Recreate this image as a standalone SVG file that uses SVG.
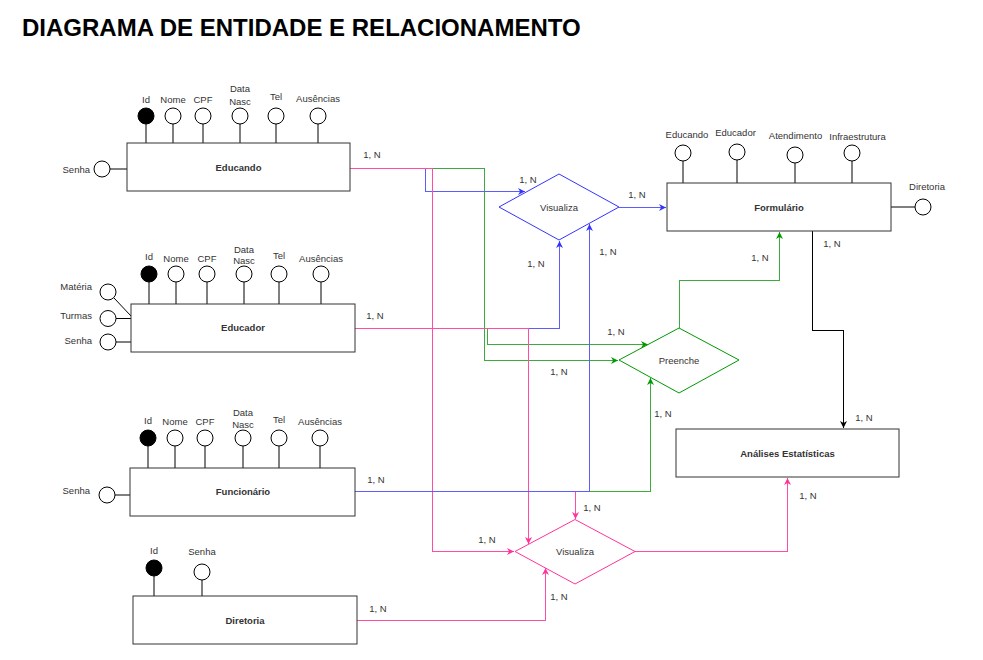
<svg xmlns="http://www.w3.org/2000/svg" width="983" height="660" viewBox="0 0 983 660">
<style>
text{font-family:"Liberation Sans",Arial,sans-serif;fill:#333;font-size:9.5px}
.t{text-anchor:middle}
.e{text-anchor:end}
.b{font-weight:bold}
.title{font-size:24px;font-weight:bold;fill:#000}
.ent{fill:#fff;stroke:#333;stroke-width:1}
.at{fill:#fff;stroke:#000;stroke-width:1}
.pk{fill:#000;stroke:#000;stroke-width:1}
.ln{stroke:#000;stroke-width:1;fill:none}
.cP,.cB,.cG,.cK{fill:none;stroke-width:1;shape-rendering:crispEdges}
.cP{stroke:#FF4DA6}
.cB{stroke:#5C5CFF}
.cG{stroke:#3DAA3D}
.cK{stroke:#000}
</style>
<defs>
<marker id="aP" viewBox="0 0 10 10" refX="10" refY="5" markerWidth="7" markerHeight="7" orient="auto" markerUnits="userSpaceOnUse"><path d="M0,0 L10,5 L0,10 L3,5 z" fill="#FF3399" shape-rendering="auto"/></marker>
<marker id="aB" viewBox="0 0 10 10" refX="10" refY="5" markerWidth="7" markerHeight="7" orient="auto" markerUnits="userSpaceOnUse"><path d="M0,0 L10,5 L0,10 L3,5 z" fill="#3333FF" shape-rendering="auto"/></marker>
<marker id="aG" viewBox="0 0 10 10" refX="10" refY="5" markerWidth="7" markerHeight="7" orient="auto" markerUnits="userSpaceOnUse"><path d="M0,0 L10,5 L0,10 L3,5 z" fill="#009900" shape-rendering="auto"/></marker>
<marker id="aK" viewBox="0 0 10 10" refX="10" refY="5" markerWidth="7" markerHeight="7" orient="auto" markerUnits="userSpaceOnUse"><path d="M0,0 L10,5 L0,10 L3,5 z" fill="#000" shape-rendering="auto"/></marker>
</defs>
<rect width="983" height="660" fill="#fff"/>
<text class="title" x="22" y="36">DIAGRAMA DE ENTIDADE E RELACIONAMENTO</text>

<g id="connectors">
<path class="cG" d="M350,168.5 H484.5 V360.5 H618" marker-end="url(#aG)"/>
<path class="cG" d="M355,328.5 H487.5 V344.5 H648" marker-end="url(#aG)"/>
<path class="cG" d="M679.5,328 V280.5 H779.5 V232" marker-end="url(#aG)"/>
<path class="cB" d="M350,168.5 H425.5 V191.5 H525" marker-end="url(#aB)"/>
<path class="cB" d="M355,328.5 H559.5 V241" marker-end="url(#aB)"/>
<path class="cB" d="M619,207.5 H666" marker-end="url(#aB)"/>
<path class="cP" d="M350,168.5 H432.5 V551.5 H514" marker-end="url(#aP)"/>
<path class="cP" d="M355,328.5 H528.5 V544" marker-end="url(#aP)"/>
<path class="cP" d="M355,491.5 H575.5 V519" marker-end="url(#aP)"/>
<path class="cG" d="M589,491.5 H650.5 V378" marker-end="url(#aG)"/>
<path class="cB" d="M355,491.5 H589.5 V224" marker-end="url(#aB)"/>
<path class="cP" d="M357,620.5 H545.5 V568" marker-end="url(#aP)"/>
<path class="cP" d="M635,551.5 H787.5 V478" marker-end="url(#aP)"/>
<path class="cK" d="M812.5,231 V330.5 H843.5 V428" marker-end="url(#aK)"/>
<g class="t">
<text x="372" y="157.5">1, N</text>
<text x="528" y="182.5">1, N</text>
<text x="637" y="197.5">1, N</text>
<text x="536" y="266.5">1, N</text>
<text x="608" y="254.5">1, N</text>
<text x="760" y="260.5">1, N</text>
<text x="832" y="246.5">1, N</text>
<text x="375" y="318.5">1, N</text>
<text x="616" y="334.5">1, N</text>
<text x="559" y="374.5">1, N</text>
<text x="663" y="416.5">1, N</text>
<text x="864" y="420.5">1, N</text>
<text x="376" y="482.5">1, N</text>
<text x="592" y="510.5">1, N</text>
<text x="808" y="498.5">1, N</text>
<text x="487" y="542.5">1, N</text>
<text x="378" y="611.5">1, N</text>
<text x="559" y="599.5">1, N</text>
</g>
</g>

<g id="educando">
<path class="ln" d="M146,124V143 M173,124V143 M203,124V143 M240,124V143 M276,124V143 M318,124V143 M110,169H127"/>
<rect class="ent" x="127" y="143" width="223" height="48"/>
<text class="t b" x="238.5" y="170.5">Educando</text>
<circle class="pk" cx="146" cy="116" r="8"/>
<circle class="at" cx="173" cy="116" r="8"/>
<circle class="at" cx="203" cy="116" r="8"/>
<circle class="at" cx="240" cy="116" r="8"/>
<circle class="at" cx="276" cy="116" r="8"/>
<circle class="at" cx="318" cy="116" r="8"/>
<circle class="at" cx="102" cy="169" r="8"/>
<text class="t" x="146" y="102.5">Id</text>
<text class="t" x="173" y="103">Nome</text>
<text class="t" x="203" y="103">CPF</text>
<text class="t" x="240" y="91.5">Data</text>
<text class="t" x="240" y="105">Nasc</text>
<text class="t" x="276" y="99.5">Tel</text>
<text class="t" x="318" y="101.5">Ausências</text>
<text class="e" x="90" y="172.5">Senha</text>
</g>

<g id="educador">
<path class="ln" d="M149,282V304 M176,282V304 M207,282V304 M244,282V304 M279,282V304 M321,282V304 M114,298L131,316 M116,318.5H131 M116,342H131"/>
<rect class="ent" x="131" y="304" width="224" height="48"/>
<text class="t b" x="243" y="331">Educador</text>
<circle class="pk" cx="149" cy="274" r="8"/>
<circle class="at" cx="176" cy="274" r="8"/>
<circle class="at" cx="207" cy="274" r="8"/>
<circle class="at" cx="244" cy="274" r="8"/>
<circle class="at" cx="279" cy="274" r="8"/>
<circle class="at" cx="321" cy="274" r="8"/>
<circle class="at" cx="108" cy="292" r="8"/>
<circle class="at" cx="108" cy="318.5" r="8"/>
<circle class="at" cx="108" cy="342" r="8"/>
<text class="t" x="149" y="260">Id</text>
<text class="t" x="176" y="261.5">Nome</text>
<text class="t" x="207" y="261.5">CPF</text>
<text class="t" x="244" y="252.5">Data</text>
<text class="t" x="244" y="263.5">Nasc</text>
<text class="t" x="279" y="258.5">Tel</text>
<text class="t" x="321" y="261.5">Ausências</text>
<text class="e" x="92" y="290">Matéria</text>
<text class="e" x="92" y="319">Turmas</text>
<text class="e" x="92" y="343.5">Senha</text>
</g>

<g id="funcionario">
<path class="ln" d="M148,446V468 M175,446V468 M205,446V468 M243,446V468 M279,446V468 M320,446V468 M115,495H130"/>
<rect class="ent" x="130" y="468" width="225" height="48"/>
<text class="t b" x="243" y="494.5">Funcionário</text>
<circle class="pk" cx="148" cy="438" r="8"/>
<circle class="at" cx="175" cy="438" r="8"/>
<circle class="at" cx="205" cy="438" r="8"/>
<circle class="at" cx="243" cy="438" r="8"/>
<circle class="at" cx="279" cy="438" r="8"/>
<circle class="at" cx="320" cy="438" r="8"/>
<circle class="at" cx="107" cy="495" r="8"/>
<text class="t" x="148" y="424">Id</text>
<text class="t" x="175" y="424.5">Nome</text>
<text class="t" x="205" y="424.5">CPF</text>
<text class="t" x="243" y="416">Data</text>
<text class="t" x="243" y="428">Nasc</text>
<text class="t" x="279" y="423">Tel</text>
<text class="t" x="320" y="424.5">Ausências</text>
<text class="e" x="90" y="494">Senha</text>
</g>

<g id="diretoria">
<path class="ln" d="M154,576V596 M202,580V596"/>
<rect class="ent" x="133" y="596" width="224" height="48"/>
<text class="t b" x="245" y="623.5">Diretoria</text>
<circle class="pk" cx="154" cy="568" r="8"/>
<circle class="at" cx="202" cy="572" r="8"/>
<text class="t" x="154" y="554">Id</text>
<text class="t" x="202" y="555">Senha</text>
</g>

<g id="formulario">
<path class="ln" d="M683,161V183 M737,160V183 M795,163V183 M852,161V183 M891,207H915"/>
<rect class="ent" x="667" y="183" width="224" height="48"/>
<text class="t b" x="779" y="210.5">Formulário</text>
<circle class="at" cx="683" cy="153" r="8"/>
<circle class="at" cx="737" cy="152" r="8"/>
<circle class="at" cx="795" cy="155" r="8"/>
<circle class="at" cx="852" cy="153" r="8"/>
<circle class="at" cx="923" cy="207" r="8"/>
<text class="t" x="687" y="137.5">Educando</text>
<text class="t" x="735.5" y="136">Educador</text>
<text class="t" x="795.5" y="139">Atendimento</text>
<text class="t" x="857.5" y="139.5">Infraestrutura</text>
<text class="t" x="927" y="189.5">Diretoria</text>
</g>

<g id="analises">
<rect class="ent" x="676" y="429" width="223" height="48"/>
<text class="t b" x="787.5" y="456.5">Análises Estatísticas</text>
</g>

<g id="visualiza1">
<polygon points="499,207 559,174 619,207 559,240" fill="#fff" stroke="#3333FF"/>
<text class="t" x="559" y="210.5">Visualiza</text>
</g>

<g id="preenche">
<polygon points="619,360 679,328 739,360 679,393" fill="#fff" stroke="#009900"/>
<text class="t" x="679" y="363.5">Preenche</text>
</g>

<g id="visualiza2">
<polygon points="515,551.5 575,519.5 635,551.5 575,584" fill="#fff" stroke="#FF3399"/>
<text class="t" x="575" y="555">Visualiza</text>
</g>
</svg>
